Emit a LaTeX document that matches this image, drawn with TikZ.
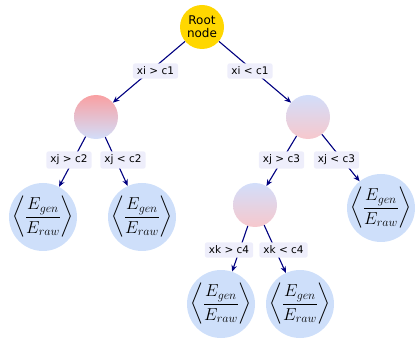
\documentclass[tikz,border=0pt]{standalone}
\usepackage{amsmath}
\usepackage{fontspec}
\newfontfamily\labelfont{DejaVu Sans}
\usetikzlibrary{arrows.meta}
\definecolor{rootgold}{RGB}{255,215,0}
\definecolor{splitpink}{RGB}{249,160,162}
\definecolor{splitrose}{RGB}{247,200,205}
\definecolor{splitblue}{RGB}{210,222,250}
\definecolor{leafblue}{RGB}{206,223,250}
\definecolor{tagfill}{RGB}{238,238,251}
\definecolor{edgenavy}{RGB}{0,0,128}
\tikzset{
  rootnode/.style={circle,fill=rootgold,inner sep=0pt,minimum size=44pt,align=center,
    font=\labelfont\fontsize{12}{13}\selectfont},
  splitnode/.style={circle,inner sep=0pt,minimum size=44pt},
  leafnode/.style={circle,fill=leafblue,inner sep=0pt,minimum size=68pt,
    label={[font=\fontsize{16.5}{19}\selectfont]center:\ratio}},
  tag/.style={fill=tagfill,rounded corners=2pt,inner xsep=4pt,inner ysep=3.5pt,
    font=\labelfont\fontsize{10.5}{11.5}\selectfont},
  branch/.style={-{Stealth[length=6.5pt,width=5.5pt]},line width=1.1pt,edgenavy}
}
\newcommand{\ratio}{$\left\langle\dfrac{E_{gen}}{E_{raw}}\right\rangle$}
\begin{document}
\begin{tikzpicture}[x=1pt,y=-1pt]
    \useasboundingbox (0,0) rectangle (415,339);
    % nodes of the tree
    \node[rootnode] (root) at (202,27) {Root\\node};
    \node[splitnode,top color=splitpink,bottom color=splitblue] (nL) at (96,117) {};
    \node[splitnode,top color=splitblue,bottom color=splitrose] (nR) at (308,117) {};
    \node[splitnode,top color=splitblue,bottom color=splitrose] (nRL) at (255,205) {};
    \node[leafnode] (leafA) at (43,217) {};
    \node[leafnode] (leafB) at (142,217) {};
    \node[leafnode] (leafC) at (381,208) {};
    \node[leafnode] (leafD) at (221,304) {};
    \node[leafnode] (leafE) at (300,304) {};

    \draw[branch] (root)--(nL); \draw[branch] (root)--(nR);
    \draw[branch] (nL)--(leafA); \draw[branch] (nL)--(leafB);
    \draw[branch] (nR)--(nRL); \draw[branch] (nR)--(leafC);
    \draw[branch] (nRL)--(leafD); \draw[branch] (nRL)--(leafE);

    % split conditions
    \node[tag] (t1) at (155.5,71) {xi > c1};
    \node[tag] (t2) at (250,71) {xi < c1};
    \node[tag] (t3) at (69,160) {xj > c2};
    \node[tag] (t4) at (123,160) {xj < c2};
    \node[tag] (t5) at (281.5,160) {xj > c3};
    \node[tag] (t6) at (336.5,160) {xj < c3};
    \node[tag] (t7) at (229,250) {xk > c4};
    \node[tag] (t8) at (283.5,250) {xk < c4};
\end{tikzpicture}
\end{document}
